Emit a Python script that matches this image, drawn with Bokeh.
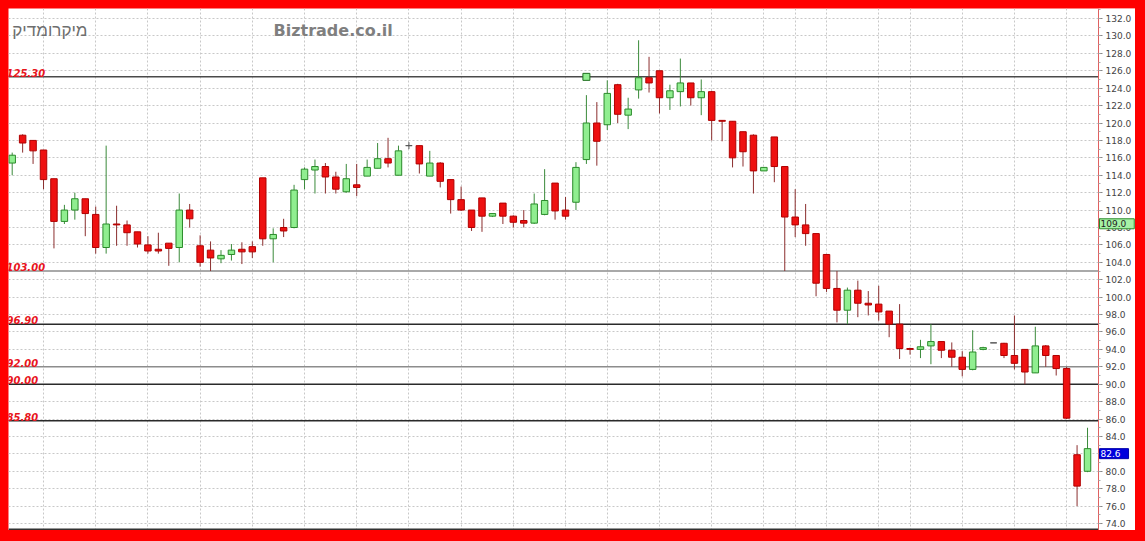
from bokeh.plotting import figure
from bokeh.models import (FixedTicker, LinearAxis, Range1d, Label, PrintfTickFormatter,
                          Grid, ColumnDataSource, BoxAnnotation)
from bokeh.core.properties import value
from bokeh.embed import file_html
from bokeh.resources import INLINE

# ---------------- data ----------------
opens = [115.4, 118.6, 118.0, 116.9, 113.6, 108.7, 110.0, 111.3, 109.5, 105.7,
         108.4, 108.3, 107.5, 106.0, 105.5, 106.2, 105.7, 110.0, 105.9, 105.4,
         104.4, 104.9, 105.5, 105.8, 113.7, 106.7, 108.0, 108.0, 113.5, 114.6,
         115.0, 113.8, 112.1, 112.9, 113.9, 114.8, 115.9, 114.0, 117.4, 117.4,
         113.9, 115.4, 113.5, 111.2, 110.0, 111.4, 109.3, 110.8, 109.3, 108.8,
         108.5, 109.5, 113.1, 110.0, 110.9, 115.8, 120.0, 119.8, 124.4, 120.9,
         123.8, 125.2, 126.0, 122.9, 123.6, 124.6, 122.9, 123.6, 120.3, 120.2,
         119.0, 118.6, 114.5, 118.4, 115.0, 109.2, 108.3, 107.3, 104.9, 101.0,
         98.5, 100.8, 99.3, 99.2, 98.4, 96.9, 94.1, 94.0, 94.4, 94.9,
         93.9, 93.1, 91.7, 94.0, 94.75, 94.7, 93.3, 94.0, 91.3, 94.4,
         93.3, 91.8, 81.9, 80.0]
highs = [116.6, 118.7, 118.0, 116.9, 113.6, 110.6, 112.0, 111.3, 110.4, 117.4,
         110.5, 108.8, 107.5, 107.0, 107.4, 106.2, 111.9, 110.7, 107.1, 106.4,
         105.4, 106.1, 106.3, 106.4, 113.7, 107.9, 109.0, 112.9, 114.9, 115.8,
         115.4, 114.4, 115.3, 115.3, 115.8, 117.7, 118.3, 117.4, 117.8, 117.4,
         116.8, 115.5, 113.5, 112.7, 110.0, 111.4, 109.6, 110.8, 109.4, 110.0,
         111.9, 114.7, 113.1, 111.5, 115.5, 123.2, 122.4, 124.9, 124.5, 122.9,
         129.5, 127.6, 126.0, 124.4, 127.4, 124.6, 125.0, 123.7, 120.3, 120.2,
         119.0, 118.7, 114.9, 118.4, 115.0, 112.4, 110.7, 107.3, 104.9, 103.0,
         101.1, 101.9, 100.7, 101.3, 98.4, 99.2, 94.2, 95.1, 96.9, 94.9,
         94.8, 93.8, 96.2, 94.3, 94.75, 94.75, 97.9, 94.0, 96.6, 94.5,
         93.3, 92.0, 83.0, 85.0]
lows = [114.0, 116.6, 115.3, 112.4, 105.6, 108.4, 108.9, 107.0, 105.0, 105.0,
        105.9, 105.9, 105.7, 105.0, 105.0, 103.6, 104.0, 108.0, 103.5, 103.0,
        103.9, 104.2, 103.8, 104.5, 105.9, 104.0, 106.9, 107.9, 112.4, 111.9,
        111.9, 111.9, 112.0, 111.6, 113.9, 114.8, 114.9, 114.0, 117.0, 114.2,
        113.9, 112.6, 109.6, 109.9, 107.6, 107.5, 109.2, 108.4, 108.0, 108.0,
        108.4, 109.4, 108.9, 108.9, 110.0, 115.3, 115.1, 119.2, 120.0, 119.3,
        122.8, 123.5, 121.1, 121.5, 121.9, 122.0, 120.9, 118.0, 117.9, 114.9,
        115.0, 111.9, 114.5, 113.2, 103.0, 106.9, 105.9, 100.1, 100.6, 97.1,
        96.9, 97.7, 97.9, 97.3, 95.4, 92.9, 93.4, 93.0, 92.3, 93.0,
        92.0, 90.9, 91.6, 93.9, 94.75, 93.0, 91.7, 90.0, 91.3, 92.0,
        91.0, 86.0, 76.0, 79.9]
closes = [116.3, 117.7, 116.8, 113.5, 108.7, 110.0, 111.3, 109.6, 105.7, 108.4,
          108.3, 107.4, 106.1, 105.3, 105.3, 105.6, 110.0, 109.0, 104.0, 104.5,
          104.8, 105.4, 105.2, 105.2, 106.7, 107.2, 107.6, 112.3, 114.7, 115.0,
          113.8, 112.4, 113.6, 112.6, 114.9, 115.9, 115.4, 116.8, 117.4, 115.3,
          115.4, 113.3, 111.2, 110.0, 108.0, 109.3, 109.6, 109.3, 108.6, 108.5,
          110.7, 111.1, 109.9, 109.3, 114.9, 120.0, 117.9, 123.4, 121.0, 121.6,
          125.2, 124.6, 122.9, 123.7, 124.6, 122.9, 123.6, 120.3, 120.2, 116.0,
          116.7, 114.5, 114.9, 115.0, 109.2, 108.3, 107.3, 101.6, 101.0, 98.5,
          100.8, 99.3, 99.1, 98.3, 96.9, 94.1, 94.0, 94.3, 94.9, 93.9,
          93.1, 91.7, 93.7, 94.2, 94.75, 93.3, 92.4, 91.4, 94.4, 93.3,
          91.8, 86.1, 78.3, 82.6]

# odd marker drawn on the 125.30 line
marker_idx = [55]
marker_val = [125.3]

# weekly separators (candle index)
week_idx = [3, 8, 13, 18, 23, 28, 33, 38, 43, 48, 53, 57, 62, 67, 72, 75, 78, 83, 86, 91, 96, 101]

# support / resistance levels
levels = [125.30, 103.00, 96.90, 92.00, 90.00, 85.80]
level_colors = ["#4a4a4a", "#8c8c8c", "#2a2a2a", "#8c8c8c", "#2a2a2a", "#2a2a2a"]

y_ticks = list(range(74, 133, 2))
y_minor = list(range(73, 134, 1))

last_prices = [109.0, 82.6]

title_he = "מיקרומדיק"
title_site = "Biztrade.co.il"

# ---------------- layout helpers (page pixels -> data) ----------------
X0 = -0.354
Y1 = 133.15
PXX = 10.44
PXY = 520 / (Y1 - 73.43)


def px_x(page_x):
    return X0 + (page_x - 8) / PXX


def px_y(page_y):
    return Y1 - (page_y - 8) / PXY


X1 = px_x(1135)
Y0 = px_y(530)
XA = px_x(1098)   # where the price axis sits

p = figure(width=1127, height=522, x_range=Range1d(X0, X1), y_range=Range1d(Y0, Y1),
           x_axis_type=None, y_axis_type=None, output_backend="svg", toolbar_location=None,
           min_border_left=0, min_border_top=0, min_border_right=0, min_border_bottom=0,
           border_fill_color="white", background_fill_color="white", outline_line_color=None)
try:
    p.margin = (8, 0, 0, 8)
except Exception:
    pass

try:
    from bokeh.models import GlobalInlineStyleSheet
    p.stylesheets = [GlobalInlineStyleSheet(css="html, body { background-color: #ff0000; }")]
except Exception:
    pass

# grids
p.add_layout(Grid(dimension=0, ticker=FixedTicker(ticks=week_idx),
                  grid_line_color="#c8c8c8", grid_line_dash="2 2", grid_line_width=1))
p.add_layout(Grid(dimension=1, ticker=FixedTicker(ticks=y_ticks),
                  grid_line_color="#c8c8c8", grid_line_dash="2 2", grid_line_width=1))

# clean white panel behind the price scale
p.add_layout(BoxAnnotation(left=XA, right=X1, bottom=Y0, top=Y1, level="glyph",
                           fill_color="white", fill_alpha=1.0, line_color=None))

# right price axis, drawn at a fixed location inside the canvas
yax = LinearAxis(ticker=FixedTicker(ticks=y_ticks, minor_ticks=y_minor),
                 formatter=PrintfTickFormatter(format="%.1f"), fixed_location=XA)
yax.axis_line_color = "#e06060"
yax.axis_line_width = 1
yax.major_tick_line_color = "#888888"
yax.major_tick_out = 4
yax.major_tick_in = 0
yax.minor_tick_line_color = "#aaaaaa"
yax.minor_tick_out = 2
yax.minor_tick_in = 0
yax.major_label_text_font = "DejaVu Sans"
yax.major_label_text_font_size = "9px"
yax.major_label_text_color = "#444444"
yax.major_label_standoff = 3
p.add_layout(yax, "right")

# level lines
n = len(levels)
p.segment(x0=[X0] * n, x1=[XA] * n, y0=levels, y1=levels, line_color=level_colors, line_width=1.5)
p.text(x=[px_x(6)] * n, y=levels, text=[f"{v:.2f}" for v in levels],
       text_font=value("DejaVu Sans"), text_font_style="bold italic", text_font_size="10px",
       text_color="#e8141c", text_baseline="alphabetic", y_offset=-4)

# candles
idx = list(range(len(opens)))
groups = {
    "up": dict(fill="#90ee90", line="#2a8a2a", wick="#3a8a3a"),
    "down": dict(fill="#ee1111", line="#b00000", wick="#8b2e2e"),
    "flat": dict(fill="#555555", line="#555555", wick="#555555"),
}
for kind, st in groups.items():
    sel = [i for i in idx if (closes[i] > opens[i] if kind == "up" else
                              closes[i] < opens[i] if kind == "down" else
                              closes[i] == opens[i])]
    src = ColumnDataSource(dict(
        x=sel,
        high=[highs[i] for i in sel],
        low=[lows[i] for i in sel],
        top=[max(opens[i], closes[i]) for i in sel],
        bottom=[min(opens[i], closes[i]) for i in sel],
    ))
    p.segment(x0="x", y0="high", x1="x", y1="low", source=src, line_color=st["wick"], line_width=1)
    p.vbar(x="x", width=0.62, top="top", bottom="bottom", source=src,
           fill_color=st["fill"], line_color=st["line"], line_width=1)

p.scatter(x=marker_idx, y=marker_val, marker="square", size=7,
          fill_color="#90ee90", line_color="#1e6e1e", line_width=1)

# bottom dark line
p.segment(x0=[X0], x1=[XA], y0=[px_y(529)], y1=[px_y(529)], line_color="#333333", line_width=2)

# titles
p.add_layout(Label(x=px_x(87), y=px_y(30), text=title_he, text_align="right",
                   text_baseline="middle", text_font="Liberation Sans", text_font_size="17px",
                   text_color="#6e6e6e"))
p.add_layout(Label(x=px_x(273), y=px_y(30), text=title_site, text_align="left",
                   text_baseline="middle", text_font="DejaVu Sans", text_font_style="bold",
                   text_font_size="16px", text_color="#7f7f7f"))

# last price boxes on the axis
box_styles = [dict(bg="#a6f2a6", border="#2a8a2a", fg="#222222"),
              dict(bg="#0000dd", border="#0000aa", fg="#ffffff")]
for v, st in zip(last_prices, box_styles):
    lab = Label(x=px_x(1099), y=v, text=f"{v:.1f}", text_align="left",
                text_baseline="top", level="overlay",
                text_font="DejaVu Sans", text_font_size="9px", text_color=st["fg"],
                background_fill_color=st["bg"], border_line_color=st["border"])
    try:
        lab.padding = (1, 8, 1, 2)
    except Exception:
        try:
            lab.padding = 2
        except Exception:
            pass
    p.add_layout(lab)

open("out.html", "w").write(file_html(p, INLINE))
